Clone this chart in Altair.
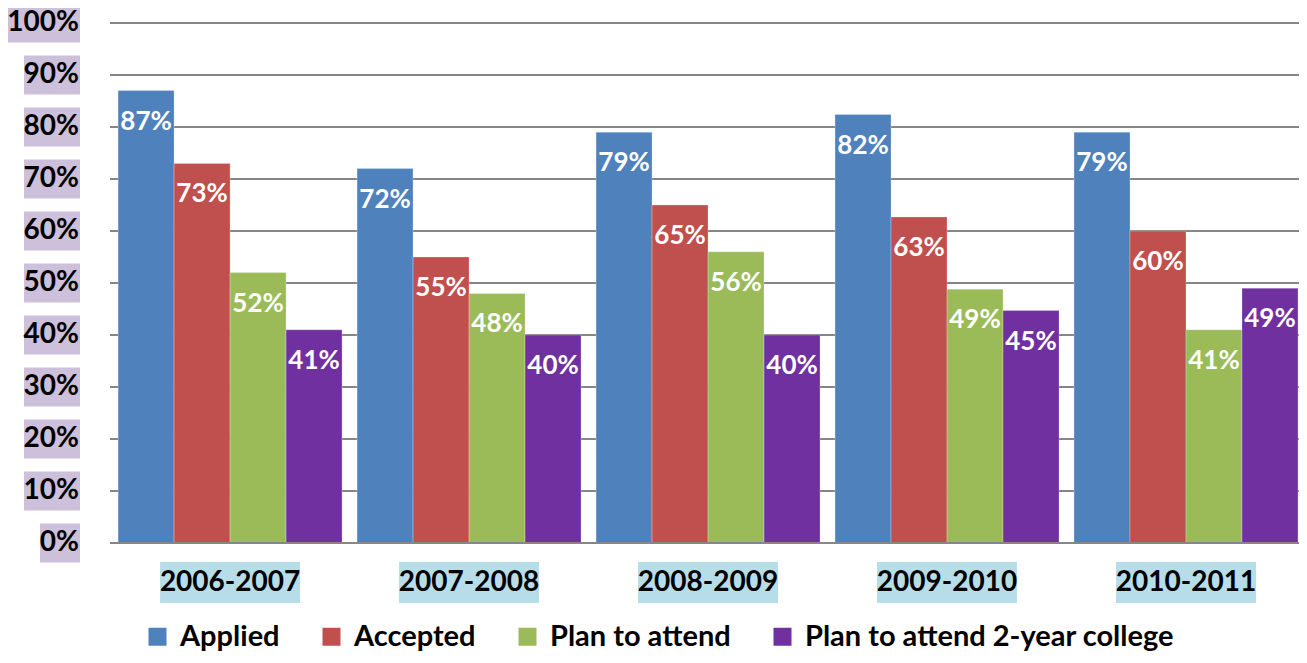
import altair as alt
import pandas as pd

years = ["2006-2007", "2007-2008", "2008-2009", "2009-2010", "2010-2011"]
series = ["Applied", "Accepted", "Plan to attend", "Plan to attend 2-year college"]
colors = ["#4F81BD", "#C0504D", "#9BBB59", "#7030A0"]
applied = [87, 72, 79, 82.4, 79]
accepted = [73, 55, 65, 62.7, 60]
plan_attend = [52, 48, 56, 48.8, 41]
plan_2year = [41, 40, 40, 44.7, 49]
tick_values = [0, 10, 20, 30, 40, 50, 60, 70, 80, 90, 100]
tick_labels = [f"{v}%" for v in tick_values]

rows = []
for s, vals in zip(series, [applied, accepted, plan_attend, plan_2year]):
    for y, v in zip(years, vals):
        rows.append({"year": y, "series": s, "value": v})
df = pd.DataFrame(rows)
years_df = pd.DataFrame({"year": years})
ticks_df = pd.DataFrame({"v": tick_values, "label": tick_labels})

FONT = "Lato"
W, H = 1189, 520

x_scale = alt.Scale(domain=years, paddingInner=0.0628, paddingOuter=0.019, align=0.89)
y_scale = alt.Scale(domain=[0, 100], nice=False)

# horizontal gridlines (incl. baseline at 0%)
grid = alt.Chart(ticks_df).mark_rule(color="#868686", strokeWidth=2).encode(
    y=alt.Y("v:Q", scale=y_scale, axis=None),
    x=alt.value(0), x2=alt.value(W),
)

base = alt.Chart(df).encode(
    x=alt.X("year:N", scale=x_scale, sort=years, axis=None),
    xOffset=alt.XOffset("series:N", sort=series,
                        scale=alt.Scale(domain=series, paddingInner=0, paddingOuter=0)),
)

bars = base.mark_bar(stroke="white", strokeWidth=0.5, strokeOpacity=0.5).encode(
    y=alt.Y("value:Q", scale=y_scale, axis=None),
    color=alt.Color("series:N", sort=series,
                    scale=alt.Scale(domain=series, range=colors),
                    legend=alt.Legend(orient="none", legendX=33, legendY=599,
                                      direction="horizontal", title=None,
                                      symbolType="square", symbolSize=324,
                                      symbolStrokeWidth=0, symbolOpacity=1,
                                      labelFont=FONT, labelFontSize=29,
                                      labelFontWeight="bold", labelColor="black",
                                      labelOffset=8, columnPadding=37, labelLimit=700)),
)

baseline = alt.Chart(ticks_df).transform_filter("datum.v == 0").mark_rule(
    color="#868686", strokeWidth=2).encode(
    y=alt.Y("v:Q", scale=y_scale, axis=None),
    x=alt.value(0), x2=alt.value(W),
)

bar_labels = base.mark_text(font=FONT, fontSize=26, fontWeight="bold", color="white",
                            baseline="middle", dy=31).encode(
    y=alt.Y("value:Q", scale=y_scale, axis=None),
    text=alt.Text("lbl:N"),
).transform_calculate(lbl="format(datum.value, '.0f') + '%'")

# y-axis label backgrounds
def ybox(filter_expr, width):
    return alt.Chart(ticks_df).transform_filter(filter_expr).transform_calculate(
        y1="datum.v - 3.73", y2="datum.v + 3.73"
    ).mark_rect(color="#CCC0DA").encode(
        x=alt.value(-30 - width), x2=alt.value(-30),
        y=alt.Y("y1:Q", scale=y_scale, axis=None), y2="y2:Q",
    )

ybox0 = ybox("datum.v == 0", 40)
ybox1 = ybox("datum.v > 0 && datum.v < 100", 56)
ybox2 = ybox("datum.v == 100", 73)

ylabels = alt.Chart(ticks_df).mark_text(font=FONT, fontSize=28, fontWeight="bold",
                                        color="black", align="right",
                                        baseline="middle").encode(
    x=alt.value(-31),
    y=alt.Y("v:Q", scale=y_scale, axis=None),
    text="label:N",
)

xbox = alt.Chart(years_df).mark_bar(color="#B7DDE8", width=140).encode(
    x=alt.X("year:N", scale=x_scale, sort=years, axis=None),
    y=alt.value(H + 19), y2=alt.value(H + 60),
)
xlabels = alt.Chart(years_df).mark_text(font=FONT, fontSize=28, fontWeight="bold",
                                        color="black", baseline="middle").encode(
    x=alt.X("year:N", scale=x_scale, sort=years, axis=None),
    y=alt.value(H + 40),
    text="year:N",
)

chart = alt.layer(grid, bars, baseline, bar_labels, ybox0, ybox1, ybox2, ylabels,
                  xbox, xlabels).properties(
    width=W, height=H,
    autosize=alt.AutoSizeParams(type="none"),
    padding={"left": 102, "top": 15, "right": 0, "bottom": 112},
).configure_view(stroke=None)

chart.save("out.html", embed_options={"renderer": "svg", "actions": False})
